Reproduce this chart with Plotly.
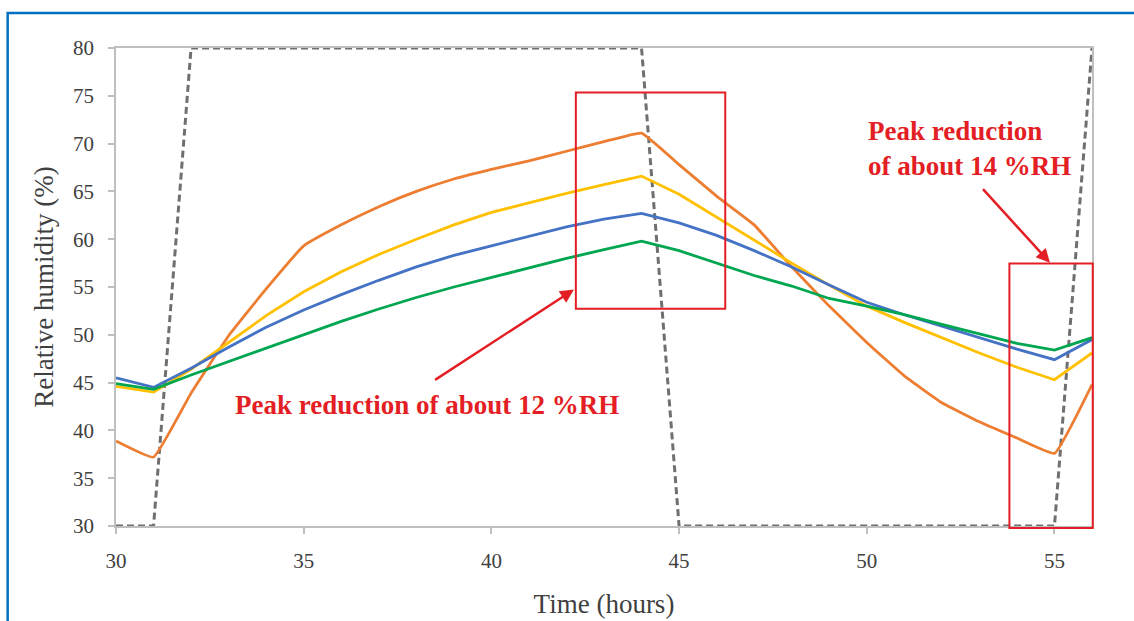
import plotly.graph_objects as go

hours = list(range(30, 57))

orange = [38.9, 37.2, 43.9, 49.9, 54.8, 59.3, 61.5, 63.4, 65.0, 66.3, 67.3, 68.2, 69.2, 70.2, 71.1,
          67.8, 64.5, 61.5, 57.1, 53.0, 49.2, 45.7, 42.9, 40.9, 39.2, 37.6, 44.8]
yellow = [44.6, 44.0, 46.4, 49.2, 52.0, 54.5, 56.6, 58.4, 60.0, 61.5, 62.8, 63.8, 64.8, 65.7, 66.6,
          64.7, 62.3, 59.9, 57.5, 55.2, 53.0, 51.3, 49.7, 48.1, 46.6, 45.3, 48.1]
blue = [45.5, 44.5, 46.5, 48.7, 50.8, 52.6, 54.2, 55.7, 57.1, 58.3, 59.3, 60.3, 61.3, 62.1, 62.7,
        61.7, 60.4, 58.8, 57.1, 55.2, 53.4, 52.1, 50.9, 49.7, 48.5, 47.4, 49.5]
green = [44.9, 44.3, 45.8, 47.2, 48.6, 50.0, 51.4, 52.7, 53.9, 55.0, 56.0, 57.0, 58.0, 58.9, 59.8,
         58.8, 57.5, 56.2, 55.1, 53.8, 53.0, 52.1, 51.1, 50.1, 49.1, 48.4, 49.7]
outdoor = [30, 30] + [80] * 13 + [30] * 11 + [80]

x_ticks = [30, 35, 40, 45, 50, 55]
y_ticks = [30, 35, 40, 45, 50, 55, 60, 65, 70, 75, 80]

XR = (30, 56)
YR = (30, 80)

def px(x):
    return (x - XR[0]) / (XR[1] - XR[0])

def py(y):
    return (y - YR[0]) / (YR[1] - YR[0])

fig = go.Figure()
fig.add_trace(go.Scatter(x=hours, y=outdoor, mode="lines",
                         line=dict(color="#6f6f6f", width=3, dash="7px,4px"), showlegend=False))
fig.add_trace(go.Scatter(x=hours, y=orange, mode="lines", line_shape="spline", line_smoothing=0.3,
                         line=dict(color="#ED7D31", width=2.8), showlegend=False))
fig.add_trace(go.Scatter(x=hours, y=yellow, mode="lines",
                         line=dict(color="#FFC000", width=2.8), showlegend=False))
fig.add_trace(go.Scatter(x=hours, y=blue, mode="lines",
                         line=dict(color="#4472C4", width=2.8), showlegend=False))
fig.add_trace(go.Scatter(x=hours, y=green, mode="lines",
                         line=dict(color="#00A650", width=2.8), showlegend=False))

red = "#E31E24"
shapes = [
    dict(type="rect", xref="paper", yref="paper", x0=px(42.25), x1=px(46.23), y0=py(52.72), y1=py(75.34),
         line=dict(color=red, width=2)),
    dict(type="rect", xref="paper", yref="paper", x0=px(53.8), x1=px(56.02), y0=py(29.78), y1=py(57.47),
         line=dict(color=red, width=2)),
    dict(type="rect", xref="paper", yref="paper", x0=-0.111, x1=1.2, y0=-0.4, y1=1.0732,
         line=dict(color="#0070C0", width=2.5), layer="below"),
]

afont = dict(family="Liberation Serif", size=27, color=red)
anns = [
    dict(x=42.2, y=54.74, ax=38.46, ay=45.18, xref="x", yref="y", axref="x", ayref="y",
         text="", showarrow=True, arrowhead=2, arrowsize=1.1, arrowwidth=2.5, arrowcolor=red),
    dict(x=54.88, y=57.54, ax=53.06, ay=65.39, xref="x", yref="y", axref="x", ayref="y",
         text="", showarrow=True, arrowhead=2, arrowsize=1.1, arrowwidth=2.5, arrowcolor=red),
    dict(x=38.28, y=42.63, xref="x", yref="y", text="<b>Peak reduction of about 12 %RH</b>",
         showarrow=False, xanchor="center", yanchor="middle", font=afont),
    dict(x=49.98, y=71.32, xref="x", yref="y", text="<b>Peak reduction</b>",
         showarrow=False, xanchor="left", yanchor="middle", font=afont),
    dict(x=49.98, y=67.65, xref="x", yref="y", text="<b>of about 14 %RH</b>",
         showarrow=False, xanchor="left", yanchor="middle", font=afont),
]

axis_common = dict(showgrid=False, zeroline=False, showline=True, linecolor="#BFBFBF", linewidth=1.5,
                   mirror=True, ticks="outside", ticklen=6, tickcolor="#BFBFBF", tickwidth=1.5,
                   automargin=False,
                   tickfont=dict(family="Liberation Serif", size=21, color="#404040"))

fig.update_layout(
    width=1134, height=621,
    margin=dict(l=116, r=42, t=48, b=95),
    paper_bgcolor="white", plot_bgcolor="white",
    shapes=shapes, annotations=anns,
    xaxis=dict(range=list(XR), tickvals=x_ticks, ticktext=[str(v) for v in x_ticks],
               ticklabelstandoff=9,
               title=dict(text="Time (hours)", font=dict(family="Liberation Serif", size=27, color="#404040"),
                          standoff=22),
               **axis_common),
    yaxis=dict(range=list(YR), tickvals=y_ticks, ticktext=[str(v) for v in y_ticks],
               ticklabelstandoff=10,
               title=dict(text="Relative humidity (%)", font=dict(family="Liberation Serif", size=27, color="#404040"),
                          standoff=12),
               **axis_common),
)

fig.write_html("out.html")
